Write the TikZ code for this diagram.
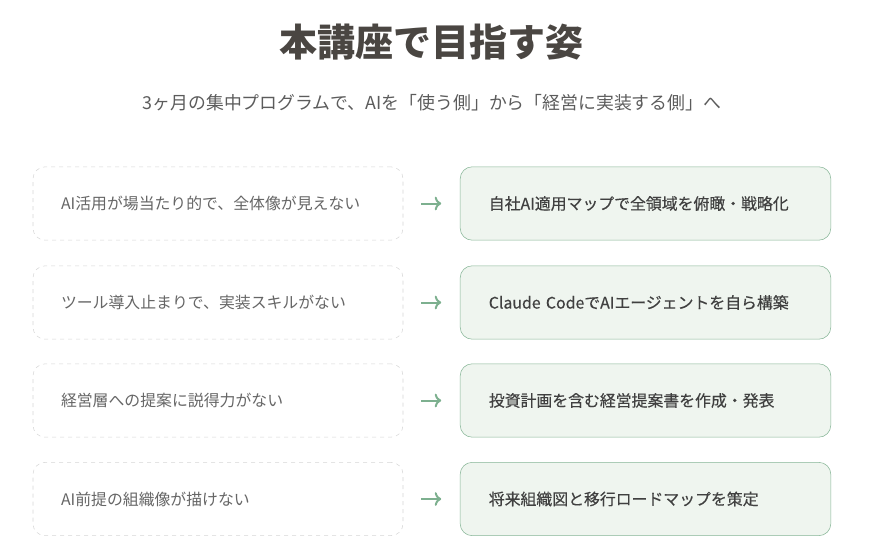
\documentclass[tikz,border=0pt]{standalone}
\usepackage{fontspec}
\setmainfont{Noto Sans CJK JP}
\newfontfamily\goalfont[FakeBold=0.4]{Noto Sans CJK JP}
\usepackage{tikz}
\usetikzlibrary{arrows.meta}
\usetikzlibrary{positioning}

\definecolor{titlegray}{HTML}{4A4642}
\definecolor{subgray}{HTML}{5C5C5C}
\definecolor{nowgray}{HTML}{666666}
\definecolor{goalgray}{HTML}{404040}
\definecolor{goalfill}{HTML}{EFF5EF}
\definecolor{goalline}{HTML}{86B596}
\definecolor{dashgray}{HTML}{D6D6D6}
\definecolor{arrowgreen}{HTML}{7DB08F}

\begin{document}
\begin{tikzpicture}[x=0.75pt, y=-0.75pt,
    nowbox/.style={draw=dashgray, dashed, fill=white, rounded corners=9pt,
        minimum width=277.5pt, minimum height=55pt, inner xsep=21pt,
        text width=235.5pt, align=left, text=nowgray, font=\fontsize{11.9}{13}\selectfont},
    goalbox/.style={draw=goalline, fill=goalfill, rounded corners=9pt,
        minimum width=278pt, minimum height=55pt, inner xsep=21.5pt,
        text width=235pt, align=left, text=goalgray, font=\goalfont\fontsize{11.9}{13}\selectfont}]
\useasboundingbox (0,0) rectangle (872,553);

\node (title) at (431, 42) [text=titlegray, font=\fontsize{28.5}{32}\selectfont\bfseries] {本講座で目指す姿};
\node (sub)   at (432, 103) [text=subgray, font=\fontsize{13.4}{15}\selectfont] {3ヶ月の集中プログラムで、AIを「使う側」から「経営に実装する側」へ};

% now -> goal
\node[nowbox]  (now1)  at (218, 203.5) {AI活用が場当たり的で、全体像が見えない};
\node[goalbox] (goal1) at (645.5, 203.5) {自社AI適用マップで全領域を俯瞰・戦略化}
    edge [<-, arrowgreen, line width=1.5pt, shorten <=14pt, shorten >=13pt] (now1);
\node[nowbox]  (now2)  at (218, 302.5) {ツール導入止まりで、実装スキルがない};
\node[goalbox] (goal2) at (645.5, 302.5) {Claude CodeでAIエージェントを自ら構築}
    edge [<-, arrowgreen, line width=1.5pt, shorten <=14pt, shorten >=13pt] (now2);
\node[nowbox]  (now3)  at (218, 400.5) {経営層への提案に説得力がない};
\node[goalbox] (goal3) at (645.5, 400.5) {投資計画を含む経営提案書を作成・発表}
    edge [<-, arrowgreen, line width=1.5pt, shorten <=14pt, shorten >=13pt] (now3);
\node[nowbox]  (now4)  at (218, 499) {AI前提の組織像が描けない};
\node[goalbox] (goal4) at (645.5, 499) {将来組織図と移行ロードマップを策定}
    edge [<-, arrowgreen, line width=1.5pt, shorten <=14pt, shorten >=13pt] (now4);
\end{tikzpicture}
\end{document}
